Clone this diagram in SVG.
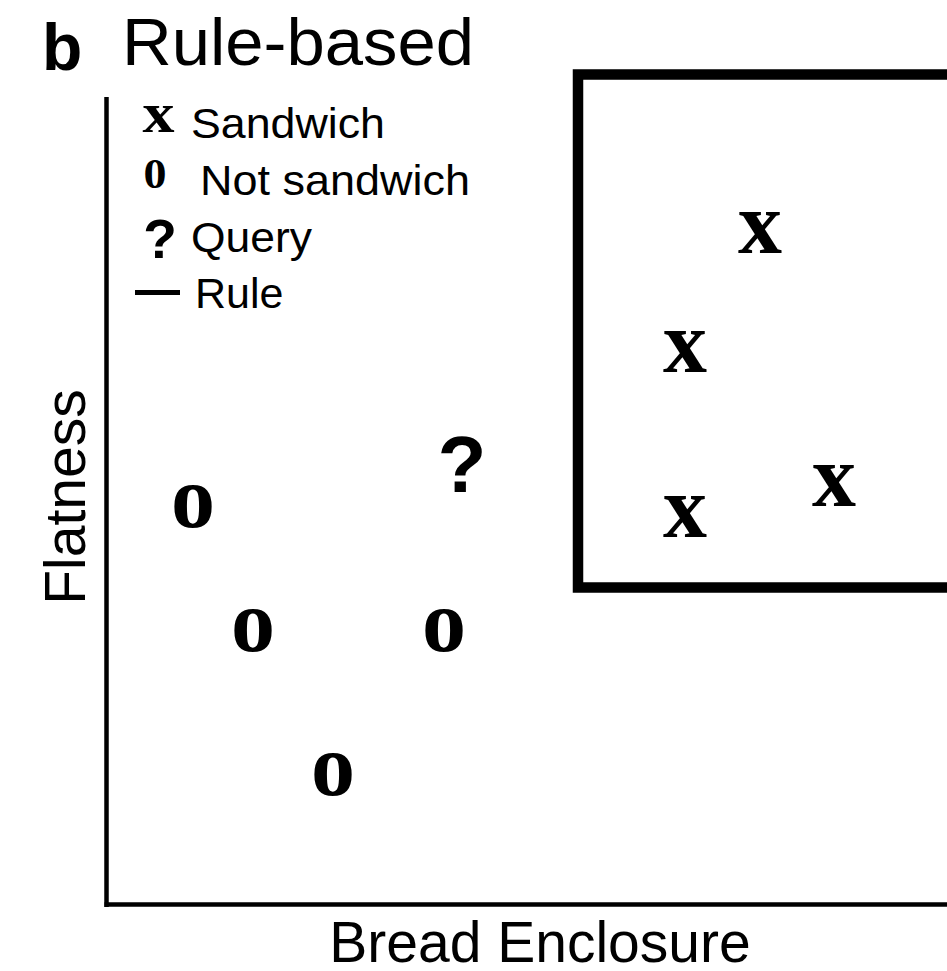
<svg xmlns="http://www.w3.org/2000/svg" width="947" height="971" viewBox="0 0 947 971">
<style>
.sans{font-family:"Liberation Sans",Arial,Helvetica,sans-serif;fill:#000}
.mk{font-family:"Liberation Serif","Times New Roman",serif;font-weight:bold;fill:#000;text-anchor:middle}
.q{font-family:"Liberation Sans",Arial,sans-serif;font-weight:bold;fill:#000;text-anchor:middle}
.leg{font-size:43px}
</style>
<rect width="947" height="971" fill="#fff"/>
<g id="title">
<text class="sans" x="42" y="70" font-size="66" font-weight="bold">b</text>
<text class="sans" x="122" y="65" font-size="67" textLength="352" lengthAdjust="spacingAndGlyphs">Rule-based</text>
</g>
<g id="axes" stroke="#000" fill="none">
<line x1="106.5" y1="97" x2="106.5" y2="907" stroke-width="4.5"/>
<line x1="104.5" y1="904.5" x2="947" y2="904.5" stroke-width="4.5"/>
</g>
<g id="rule-box">
<rect x="578" y="74.5" width="420" height="513" fill="none" stroke="#000" stroke-width="10.5"/>
</g>
<g id="legend">
<text class="mk" x="158.5" y="132" font-size="56" textLength="32" lengthAdjust="spacingAndGlyphs">x</text>
<text class="sans leg" x="191" y="138" textLength="194" lengthAdjust="spacingAndGlyphs">Sandwich</text>
<text class="mk" x="155" y="188" font-size="42" textLength="23" lengthAdjust="spacingAndGlyphs">0</text>
<text class="sans leg" x="200" y="195" textLength="270" lengthAdjust="spacingAndGlyphs">Not sandwich</text>
<text class="q" x="160" y="258" font-size="55">?</text>
<text class="sans leg" x="191" y="252" textLength="121" lengthAdjust="spacingAndGlyphs">Query</text>
<line x1="135" y1="292.5" x2="180" y2="292.5" stroke="#000" stroke-width="5"/>
<text class="sans leg" x="195" y="308">Rule</text>
</g>
<g id="sandwiches">
<text class="mk" x="760" y="253" font-size="88">x</text>
<text class="mk" x="685" y="372" font-size="88">x</text>
<text class="mk" x="834" y="506" font-size="88">x</text>
<text class="mk" x="685" y="537" font-size="88">x</text>
</g>
<g id="not-sandwiches">
<text class="mk" x="193" y="527" font-size="88">o</text>
<text class="mk" x="253" y="651" font-size="88">o</text>
<text class="mk" x="444" y="651" font-size="88">o</text>
<text class="mk" x="333" y="795" font-size="88">o</text>
</g>
<g id="query">
<text class="q" x="462" y="492" font-size="80">?</text>
</g>
<g id="axis-labels">
<text class="sans" transform="translate(85,497) rotate(-90)" text-anchor="middle" font-size="57">Flatness</text>
<text class="sans" x="540" y="962" text-anchor="middle" font-size="57">Bread Enclosure</text>
</g>
<g id="connectors"/>
</svg>
